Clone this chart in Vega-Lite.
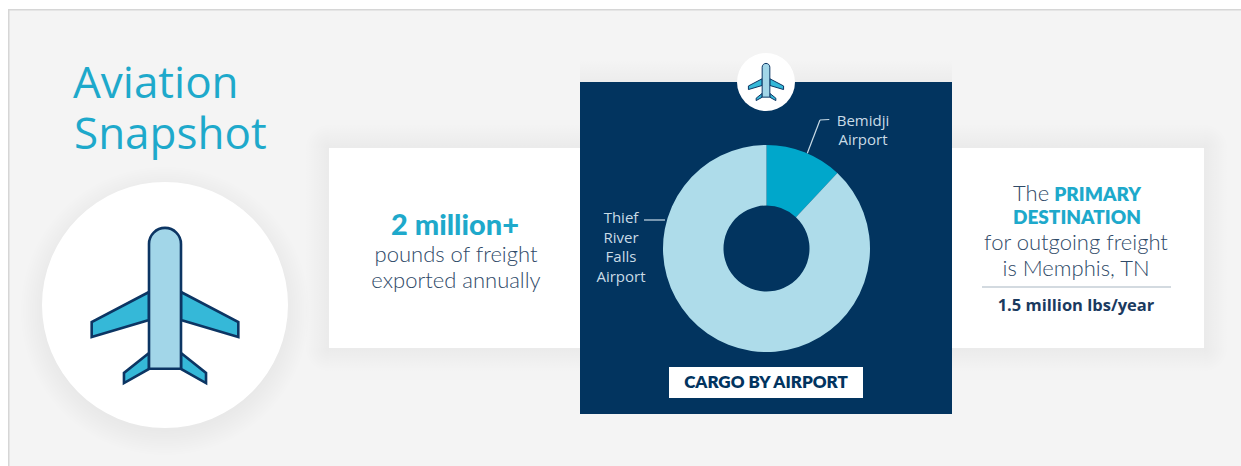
{
  "$schema": "https://vega.github.io/schema/vega-lite/v6.json",
  "width": 1241,
  "height": 466,
  "padding": 0,
  "autosize": "none",
  "background": "#ffffff",
  "config": {"view": {"stroke": null}, "axis": {"disable": true}, "style": {"text": {"font": "Lato"}}},
  "datasets": {
    "cargo": [
      {"airport": "Bemidji Airport", "share": 12},
      {"airport": "Thief River Falls Airport", "share": 88}
    ],
    "one": [{"item": "shape"}]
  },
  "data": {"name": "one"},
  "layer": [
    {"mark": {"type": "rect", "fill": "#d6d6d6"}, "encoding": {
      "x": {"datum": 8, "type": "quantitative", "scale": {"domain": [0, 1241], "range": [0, 1241], "nice": false, "zero": false}},
      "x2": {"datum": 1241},
      "y": {"datum": 9, "type": "quantitative", "scale": {"domain": [0, 466], "range": [0, 466], "nice": false, "zero": false}},
      "y2": {"datum": 466}}},
    {"mark": {"type": "rect", "fill": "#f4f4f4"}, "encoding": {
      "x": {"datum": 9.5}, "x2": {"datum": 1241}, "y": {"datum": 10.5}, "y2": {"datum": 466}}},

    {"mark": {"type": "rect", "fill": {"gradient": "linear", "x1": 0, "y1": 0, "x2": 0, "y2": 1, "stops": [{"offset": 0, "color": "rgba(0,0,0,0)"}, {"offset": 1, "color": "rgba(0,0,0,0.04)"}]}}, "encoding": {
      "x": {"datum": 329}, "x2": {"datum": 1204}, "y": {"datum": 124}, "y2": {"datum": 148}}},
    {"mark": {"type": "rect", "fill": {"gradient": "linear", "x1": 0, "y1": 0, "x2": 0, "y2": 1, "stops": [{"offset": 0, "color": "rgba(0,0,0,0.04)"}, {"offset": 1, "color": "rgba(0,0,0,0)"}]}}, "encoding": {
      "x": {"datum": 329}, "x2": {"datum": 1204}, "y": {"datum": 348}, "y2": {"datum": 372}}},
    {"mark": {"type": "rect", "fill": {"gradient": "linear", "x1": 0, "y1": 0, "x2": 1, "y2": 0, "stops": [{"offset": 0, "color": "rgba(0,0,0,0)"}, {"offset": 1, "color": "rgba(0,0,0,0.04)"}]}}, "encoding": {
      "x": {"datum": 305}, "x2": {"datum": 329}, "y": {"datum": 148}, "y2": {"datum": 348}}},
    {"mark": {"type": "rect", "fill": {"gradient": "linear", "x1": 0, "y1": 0, "x2": 1, "y2": 0, "stops": [{"offset": 0, "color": "rgba(0,0,0,0.04)"}, {"offset": 1, "color": "rgba(0,0,0,0)"}]}}, "encoding": {
      "x": {"datum": 1204}, "x2": {"datum": 1228}, "y": {"datum": 148}, "y2": {"datum": 348}}},
    {"mark": {"type": "rect", "fill": {"gradient": "radial", "x1": 1, "y1": 1, "r1": 0, "x2": 1, "y2": 1, "r2": 1, "stops": [{"offset": 0, "color": "rgba(0,0,0,0.04)"}, {"offset": 1, "color": "rgba(0,0,0,0)"}]}}, "encoding": {
      "x": {"datum": 305}, "x2": {"datum": 329}, "y": {"datum": 124}, "y2": {"datum": 148}}},
    {"mark": {"type": "rect", "fill": {"gradient": "radial", "x1": 0, "y1": 1, "r1": 0, "x2": 0, "y2": 1, "r2": 1, "stops": [{"offset": 0, "color": "rgba(0,0,0,0.04)"}, {"offset": 1, "color": "rgba(0,0,0,0)"}]}}, "encoding": {
      "x": {"datum": 1204}, "x2": {"datum": 1228}, "y": {"datum": 124}, "y2": {"datum": 148}}},
    {"mark": {"type": "rect", "fill": {"gradient": "radial", "x1": 1, "y1": 0, "r1": 0, "x2": 1, "y2": 0, "r2": 1, "stops": [{"offset": 0, "color": "rgba(0,0,0,0.04)"}, {"offset": 1, "color": "rgba(0,0,0,0)"}]}}, "encoding": {
      "x": {"datum": 305}, "x2": {"datum": 329}, "y": {"datum": 348}, "y2": {"datum": 372}}},
    {"mark": {"type": "rect", "fill": {"gradient": "radial", "x1": 0, "y1": 0, "r1": 0, "x2": 0, "y2": 0, "r2": 1, "stops": [{"offset": 0, "color": "rgba(0,0,0,0.04)"}, {"offset": 1, "color": "rgba(0,0,0,0)"}]}}, "encoding": {
      "x": {"datum": 1204}, "x2": {"datum": 1228}, "y": {"datum": 348}, "y2": {"datum": 372}}},
    {"mark": {"type": "rect", "fill": "#ffffff"}, "encoding": {
      "x": {"datum": 329}, "x2": {"datum": 1204}, "y": {"datum": 148}, "y2": {"datum": 348}}},

    {"mark": {"type": "point", "shape": "circle", "filled": true, "opacity": 1, "size": 84000,
      "fill": {"gradient": "radial", "x1": 0.5, "y1": 0.5, "r1": 0, "x2": 0.5, "y2": 0.5, "r2": 0.5, "stops": [{"offset": 0.8, "color": "rgba(0,0,0,0.05)"}, {"offset": 1, "color": "rgba(0,0,0,0)"}]}},
      "encoding": {"x": {"datum": 165}, "y": {"datum": 311}}},
    {"mark": {"type": "point", "shape": "circle", "filled": true, "fill": "#ffffff", "opacity": 1, "size": 60516}, "encoding": {
      "x": {"datum": 165}, "y": {"datum": 305}}},

    {"mark": {"type": "point", "filled": true, "opacity": 1, "fill": "#35b8d8", "stroke": "#0c3563", "strokeWidth": 2.6, "strokeJoin": "miter", "size": 24336,
      "shape": "M-.205 -.173L-.94 .212L-.94 .404L-.205 .186ZM.205 -.173L.94 .212L.94 .404L.205 .186ZM-.205 .609L-.526 .865L-.526 .994L-.205 .814ZM.205 .609L.526 .865L.526 .994L.205 .814Z"},
      "encoding": {"x": {"datum": 165}, "y": {"datum": 305.5}}},
    {"mark": {"type": "point", "filled": true, "opacity": 1, "fill": "#a2d6e8", "stroke": "#0c3563", "strokeWidth": 2.6, "size": 24336,
      "shape": "M-.205 .81L-.205 -.79A.205 .205 0 0 1 .205 -.79L.205 .81Z"},
      "encoding": {"x": {"datum": 165}, "y": {"datum": 305.5}}},

    {"mark": {"type": "rect", "fill": {"gradient": "linear", "x1": 0, "y1": 0, "x2": 0, "y2": 1, "stops": [{"offset": 0, "color": "rgba(0,0,0,0)"}, {"offset": 1, "color": "rgba(0,0,0,0.03)"}]}}, "encoding": {
      "x": {"datum": 580}, "x2": {"datum": 952}, "y": {"datum": 60}, "y2": {"datum": 82}}},
    {"mark": {"type": "rect", "fill": "#02345f"}, "encoding": {
      "x": {"datum": 580}, "x2": {"datum": 952}, "y": {"datum": 82}, "y2": {"datum": 414}}},

    {"data": {"name": "cargo"},
      "mark": {"type": "arc", "radius": 103.5, "radius2": 43},
      "encoding": {
        "x": {"datum": 766.5},
        "y": {"datum": 248.5},
        "theta": {"field": "share", "type": "quantitative", "stack": true, "scale": {"domain": [0, 100], "range": [0, 6.283185]}},
        "order": {"field": "airport"},
        "color": {"field": "airport", "type": "nominal", "legend": null,
          "scale": {"domain": ["Bemidji Airport", "Thief River Falls Airport"], "range": ["#00a7cb", "#aedcea"]}}}},

    {"mark": {"type": "point", "shape": "circle", "filled": true, "fill": "#ffffff", "opacity": 1, "size": 3364}, "encoding": {
      "x": {"datum": 766}, "y": {"datum": 82}}},
    {"mark": {"type": "point", "filled": true, "opacity": 1, "fill": "#35b8d8", "stroke": "#0c3563", "strokeWidth": 1, "size": 1400,
      "shape": "M-.205 -.173L-.94 .212L-.94 .404L-.205 .186ZM.205 -.173L.94 .212L.94 .404L.205 .186ZM-.205 .609L-.526 .865L-.526 .994L-.205 .814ZM.205 .609L.526 .865L.526 .994L.205 .814Z"},
      "encoding": {"x": {"datum": 766}, "y": {"datum": 82}}},
    {"mark": {"type": "point", "filled": true, "opacity": 1, "fill": "#a2d6e8", "stroke": "#0c3563", "strokeWidth": 1, "size": 1400,
      "shape": "M-.205 .81L-.205 -.79A.205 .205 0 0 1 .205 -.79L.205 .81Z"},
      "encoding": {"x": {"datum": 766}, "y": {"datum": 82}}},

    {"mark": {"type": "rule", "stroke": "#c9dbe6", "strokeWidth": 1.2}, "encoding": {
      "x": {"datum": 807.3}, "x2": {"datum": 820}, "y": {"datum": 153.3}, "y2": {"datum": 120}}},
    {"mark": {"type": "rule", "stroke": "#c9dbe6", "strokeWidth": 1.2}, "encoding": {
      "x": {"datum": 820}, "x2": {"datum": 829.3}, "y": {"datum": 120}, "y2": {"datum": 119.5}}},
    {"mark": {"type": "rule", "stroke": "#c9dbe6", "strokeWidth": 1.2}, "encoding": {
      "x": {"datum": 644}, "x2": {"datum": 665}, "y": {"datum": 220}, "y2": {"datum": 220}}},
    {"mark": {"type": "rule", "stroke": "#c5ced6", "strokeWidth": 1.5}, "encoding": {
      "x": {"datum": 982}, "x2": {"datum": 1171}, "y": {"datum": 287}, "y2": {"datum": 287}}},

    {"mark": {"type": "rect", "fill": "#ffffff"}, "encoding": {
      "x": {"datum": 669}, "x2": {"datum": 863}, "y": {"datum": 367}, "y2": {"datum": 398}}},

    {"data": {"values": [{"label": "Aviation"}]},
      "mark": {"type": "text", "font": "Open Sans", "fontWeight": 400, "fontSize": 44, "align": "left", "baseline": "alphabetic", "fill": "#1ea9cb"},
      "encoding": {"x": {"datum": 73}, "y": {"datum": 98}, "text": {"field": "label"}}},
    {"data": {"values": [{"label": "Snapshot"}]},
      "mark": {"type": "text", "font": "Open Sans", "fontWeight": 400, "fontSize": 44, "align": "left", "baseline": "alphabetic", "fill": "#1ea9cb"},
      "encoding": {"x": {"datum": 74}, "y": {"datum": 149}, "text": {"field": "label"}}},

    {"data": {"values": [{"label": "2 million+"}]},
      "mark": {"type": "text", "fontWeight": 900, "fontSize": 29, "align": "center", "baseline": "alphabetic", "fill": "#1ea9cb"},
      "encoding": {"x": {"datum": 455}, "y": {"datum": 235}, "text": {"field": "label"}}},
    {"data": {"values": [{"label": "pounds of freight\nexported annually"}]},
      "mark": {"type": "text", "fontWeight": 300, "fontSize": 22, "align": "center", "baseline": "alphabetic", "lineBreak": "\n", "lineHeight": 25.5, "fill": "#2f4a68"},
      "encoding": {"x": {"datum": 456}, "y": {"datum": 262}, "text": {"field": "label"}}},

    {"data": {"values": [{"label": "The"}]},
      "mark": {"type": "text", "fontWeight": 300, "fontSize": 22, "align": "left", "baseline": "alphabetic", "fill": "#2f4a68"},
      "encoding": {"x": {"datum": 1013}, "y": {"datum": 201}, "text": {"field": "label"}}},
    {"data": {"values": [{"label": "PRIMARY"}]},
      "mark": {"type": "text", "fontWeight": 800, "fontSize": 19, "align": "right", "baseline": "alphabetic", "letterSpacing": 1, "fill": "#1ea9cb"},
      "encoding": {"x": {"datum": 1141}, "y": {"datum": 201}, "text": {"field": "label"}}},
    {"data": {"values": [{"label": "DESTINATION"}]},
      "mark": {"type": "text", "fontWeight": 800, "fontSize": 19, "align": "center", "baseline": "alphabetic", "letterSpacing": 1, "fill": "#1ea9cb"},
      "encoding": {"x": {"datum": 1077}, "y": {"datum": 224}, "text": {"field": "label"}}},
    {"data": {"values": [{"label": "for outgoing freight\nis Memphis, TN"}]},
      "mark": {"type": "text", "fontWeight": 300, "fontSize": 22, "align": "center", "baseline": "alphabetic", "lineBreak": "\n", "lineHeight": 26, "fill": "#2f4a68"},
      "encoding": {"x": {"datum": 1076}, "y": {"datum": 250}, "text": {"field": "label"}}},
    {"data": {"values": [{"label": "1.5 million lbs/year"}]},
      "mark": {"type": "text", "font": "Open Sans", "fontWeight": 700, "fontSize": 16.5, "align": "center", "baseline": "alphabetic", "fill": "#1b3a5f"},
      "encoding": {"x": {"datum": 1076}, "y": {"datum": 311}, "text": {"field": "label"}}},

    {"data": {"values": [{"label": "Bemidji\nAirport"}]},
      "mark": {"type": "text", "font": "Open Sans", "fontSize": 15, "align": "center", "baseline": "alphabetic", "lineBreak": "\n", "lineHeight": 18.5, "fill": "#c9dbe6"},
      "encoding": {"x": {"datum": 863}, "y": {"datum": 126}, "text": {"field": "label"}}},
    {"data": {"values": [{"label": "Thief\nRiver\nFalls\nAirport"}]},
      "mark": {"type": "text", "font": "Open Sans", "fontSize": 15, "align": "center", "baseline": "alphabetic", "lineBreak": "\n", "lineHeight": 19.5, "fill": "#c9dbe6"},
      "encoding": {"x": {"datum": 621}, "y": {"datum": 223}, "text": {"field": "label"}}},
    {"data": {"values": [{"label": "CARGO BY AIRPORT"}]},
      "mark": {"type": "text", "fontWeight": 800, "fontSize": 17, "align": "center", "baseline": "alphabetic", "fill": "#02345f"},
      "encoding": {"x": {"datum": 766}, "y": {"datum": 388}, "text": {"field": "label"}}}
  ]
}
